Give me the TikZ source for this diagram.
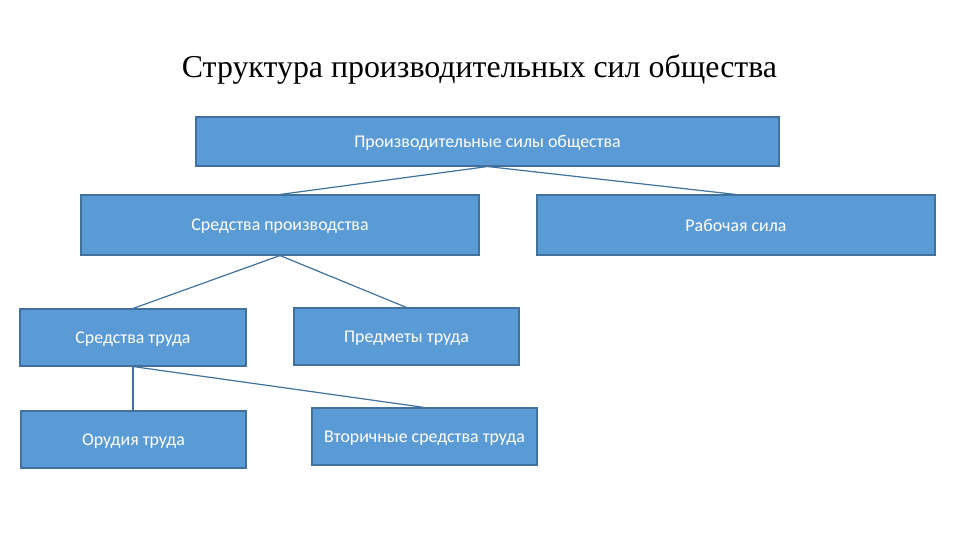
\documentclass[tikz,border=0pt]{standalone}
\usepackage{fontspec}
\setmainfont{Liberation Serif}
\newfontfamily\boxfont{Carlito}
\usepackage{xcolor}
\usepackage{tikz}
\usetikzlibrary{positioning, calc}

\definecolor{boxfill}{HTML}{5B9BD5}
\definecolor{boxline}{HTML}{41719C}

\tikzset{
  block/.style={draw=boxline, fill=boxfill, line width=0.8pt, text=white,
    font=\boxfont\fontsize{13.4}{15}\selectfont, inner sep=0pt, text depth=0pt},
  link/.style={draw=boxline, line width=0.9pt}
}

\begin{document}
\begin{tikzpicture}[x=0.75pt, y=-0.75pt]
  % Canvas
  \useasboundingbox (0,0) rectangle (960,540);

  % Title
  \node (title) at (479.5,70) [font=\fontsize{23.9}{27}\selectfont] {Структура производительных сил общества};

  % First level
  \node[block, minimum width=437.25pt, minimum height=36.75pt] (forces) at (487.5,141.5) {Производительные силы общества};

  % Second level
  \node[block, minimum width=298.5pt, minimum height=45pt] (means) at (280,225) {Средства производства};
  \node[block, minimum width=298.5pt, minimum height=45pt] (labour) at (736,225) {Рабочая сила};

  % Third level
  \node[block, minimum width=169.5pt, minimum height=42.75pt] (instr) at (133,337.5) {Средства труда};
  \node[block, minimum width=168.75pt, minimum height=42.75pt] (objects) at (406.5,336.5) {Предметы труда};

  % Fourth level
  \node[block, minimum width=168.75pt, minimum height=42.75pt] (tools) at (133.5,439.5) {Орудия труда};
  \node[block, minimum width=168.75pt, minimum height=42.75pt] (second) at (424.5,436.5) {Вторичные средства труда};

  % Connectors
  \draw[link] (forces.south) -- (means.north);
  \draw[link] (forces.south) -- (labour.north);
  \draw[link] (means.south) -- (instr.north);
  \draw[link] (means.south) -- (objects.north);
  \draw[link] (instr.south) -- (instr.south |- tools.north);
  \draw[link] (instr.south) -- (second.north);
\end{tikzpicture}
\end{document}
